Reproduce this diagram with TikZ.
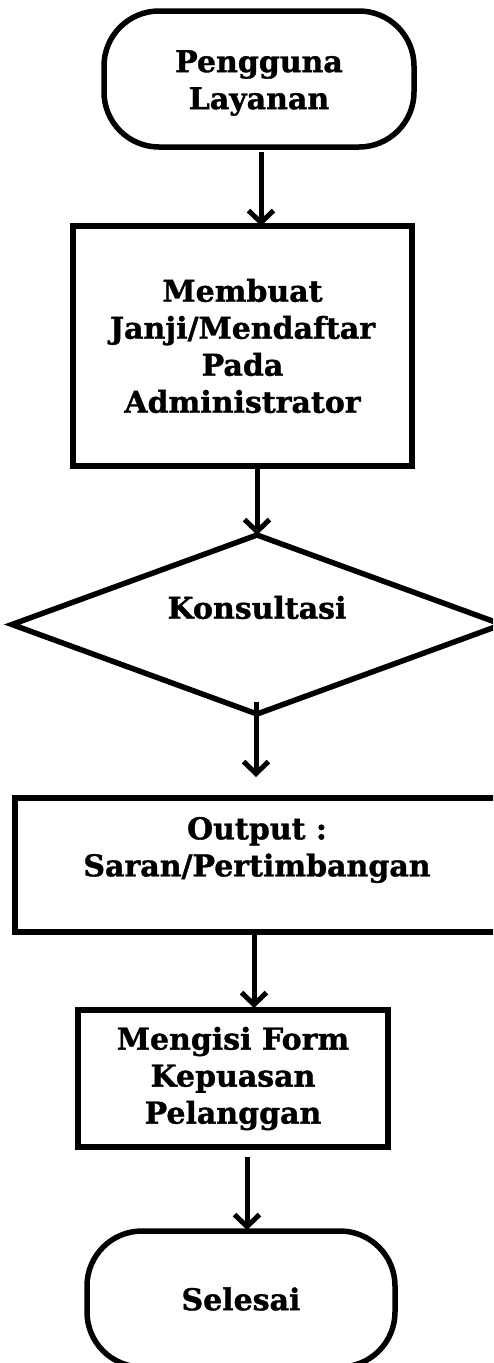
\documentclass[tikz,border=0pt]{standalone}
\usepackage{fontspec}
\setmainfont{DejaVu Serif}[BoldFeatures={FakeBold=1.2}]
\usetikzlibrary{arrows.meta,shapes.geometric,calc}
\begin{document}
\begin{tikzpicture}[x=1pt,y=-1pt,
  every node/.style={font=\bfseries\fontsize{30}{37}\selectfont, align=center},
  shapebox/.style={draw, line width=5.5pt, inner sep=0pt, outer sep=0pt},
  term/.style={shapebox, rounded corners=55pt},
  arr/.style={line width=5pt, -{Straight Barb[length=12pt,width=25pt]}}]
\useasboundingbox (0,0) rectangle (493,1363);
\fill[white] (0,0) rectangle (493,1363);
\clip (0,0) rectangle (493,1363);
\node[term, minimum width=310pt, minimum height=136pt,
  label={[align=center,yshift=-4pt]center:{Pengguna\\Layanan}}] (start) at (259,79) {};
\node[shapebox, minimum width=339pt, minimum height=240pt] (daftar) at (242.5,346) {Membuat\\Janji/Mendaftar\\Pada\\Administrator};
\node[shapebox, diamond, minimum width=490pt, minimum height=179pt,
  label={[yshift=17pt]center:Konsultasi}] (kons) at (257,624.5) {};
\node[shapebox, minimum width=484pt, minimum height=134pt,
  label={[align=center,yshift=15pt]center:{Output :\\Saran/Pertimbangan}}] (out) at (257,865) {};
\node[shapebox, minimum width=310pt, minimum height=137pt] (form) at (233,1078.5) {Mengisi Form\\Kepuasan\\Pelanggan};
\node[term, minimum width=308pt, minimum height=136pt] (end) at (241,1299) {Selesai};
\draw[arr] ($(start.south)+(2,5)$) -- ($(start.south |- daftar.north)+(2,0)$);
\draw[arr] (daftar.south -| kons.north) -- (kons.north);
\draw[arr] ($(kons.south)+(-1,-12)$) -- ($(out.north)+(-1,-21)$);
\draw[arr] ($(out.south)+(-3,3)$) -- ($(form.north)+(21,-2)$);
\draw[arr] ($(form.south)+(14,10)$) -- ($(end.north)+(6,-1)$);
\end{tikzpicture}
\end{document}
